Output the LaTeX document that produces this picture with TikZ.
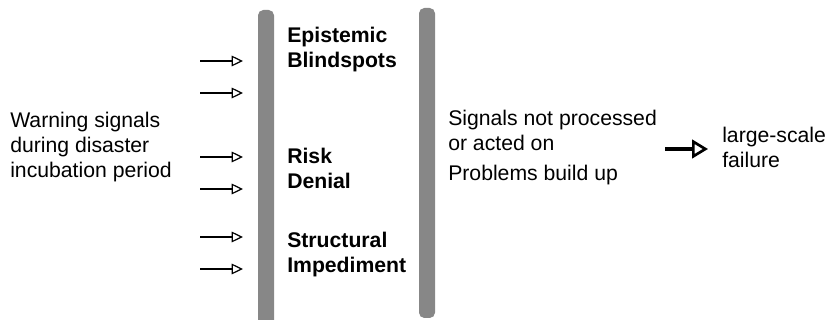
\documentclass[tikz,border=0pt]{standalone}
\usepackage{fontspec}
\setmainfont{Liberation Sans}
\usetikzlibrary{arrows.meta, positioning}

\tikzset{
  signal/.style={-{Triangle[open, length=8.5pt, width=8pt]}, line width=0.9pt},
  outcome/.style={-{Triangle[open, fill=white, length=12pt, width=14pt, line width=2pt]}, line width=3.5pt},
  graybar/.style={fill=black!47, rounded corners=4pt},
  plaintext/.style={inner sep=0pt, anchor=west, align=left, font=\fontsize{15.9}{18.75}\selectfont},
  barlabel/.style={plaintext, font=\bfseries\fontsize{15.9}{18.75}\selectfont}
}

\begin{document}
\begin{tikzpicture}[x=0.75pt, y=-0.75pt]
  \useasboundingbox (0,0) rectangle (826,320);

  % the two barriers
  \fill[graybar] (258,10) rectangle (274,330);
  \fill[graybar] (419,8) rectangle (435,318);

  % incoming warning signals
  \node[plaintext] (warning) at (10,147) {Warning signals\\during disaster\\incubation period};
  \foreach \y [count=\i] in {61,93,157,189,237,269} {
    \coordinate (s\i) at (200,\y);
    \coordinate (e\i) at (243,\y);
    \draw[signal] (s\i) -- (e\i);
  }

  % what blocks them
  \node[barlabel] (blind) at (287,50) {Epistemic\\Blindspots};
  \node[barlabel] (denial) at (287,168.5) {Risk\\Denial};
  \node[barlabel] (struct) at (287,255) {Structural\\Impediment};

  % consequences
  \node[plaintext] (notacted) at (448,130.5) {Signals not processed\\or acted on};
  \node[plaintext] (buildup) at (448,175) {Problems build up};
  \node[plaintext] (failure) at (722,147.5) {large-scale\\failure};

  \coordinate (f0) at (665,149);
  \draw[outcome, shorten >=10.5pt] (f0) -- (f0 -| failure.west);
\end{tikzpicture}
\end{document}
